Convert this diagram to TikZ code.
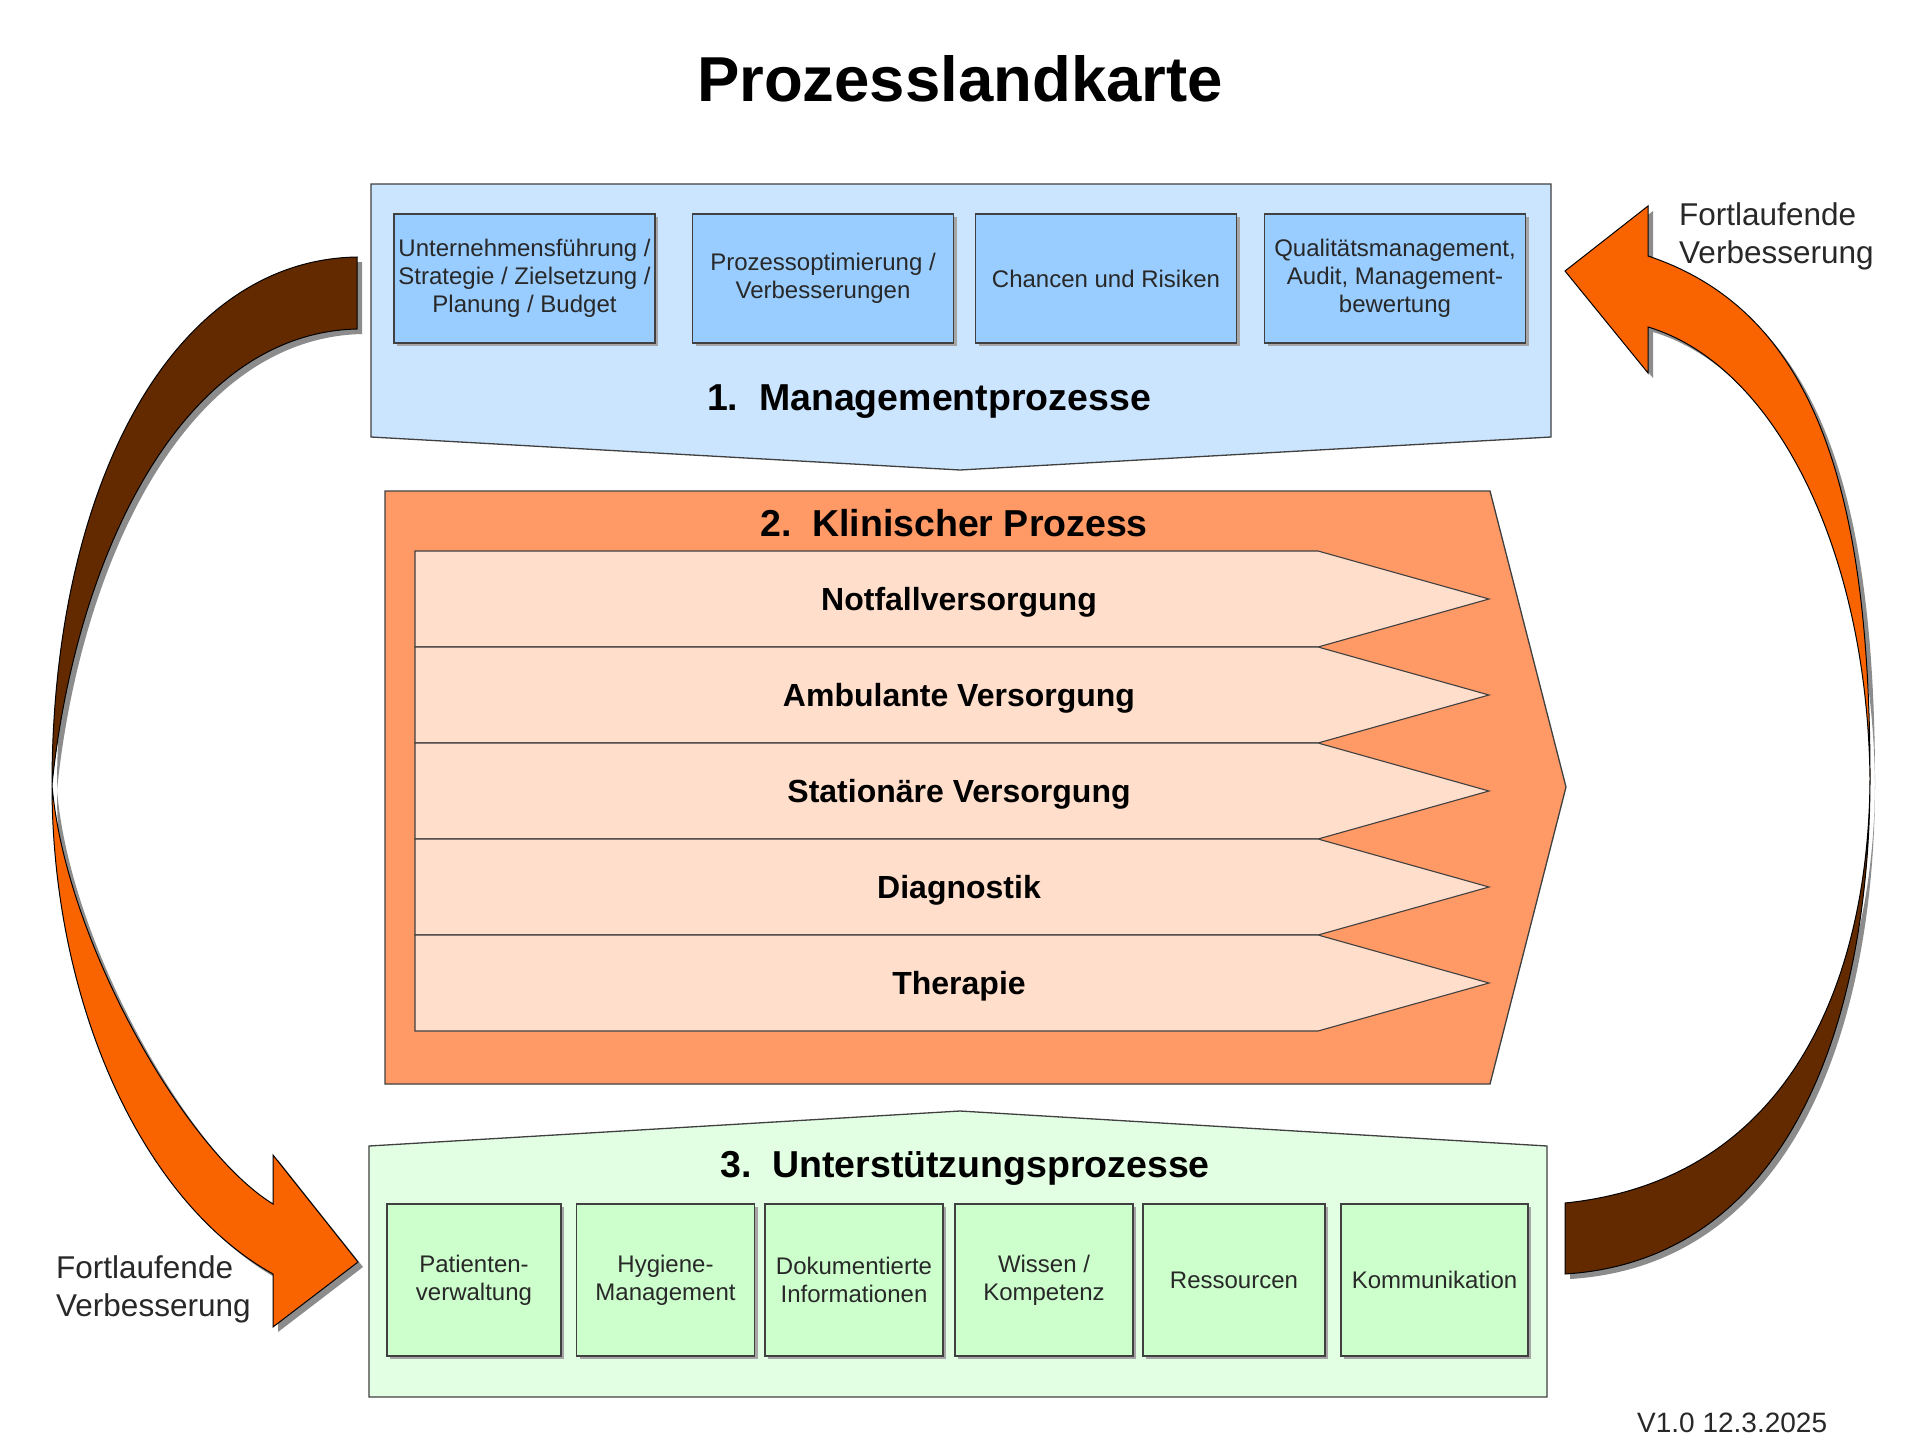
\documentclass[tikz,border=0pt]{standalone}
\usepackage{fontspec}
\setmainfont{Liberation Sans}
\definecolor{blueout}{RGB}{204,229,255}
\definecolor{bluein}{RGB}{153,204,255}
\definecolor{orangeout}{RGB}{255,153,102}
\definecolor{chev}{RGB}{255,222,204}
\definecolor{greenout}{RGB}{227,255,227}
\definecolor{greenin}{RGB}{204,255,204}
\definecolor{arrbrown}{RGB}{99,42,0}
\definecolor{arrorange}{RGB}{250,100,0}
\definecolor{textgray}{RGB}{40,40,40}
\newcommand\ArrLB{(357,257) .. controls (170,260) and (52,490) .. (52,785) .. controls (75,560) and (180,333) .. (357,329) -- cycle}
\newcommand\ArrLO{(52,785) .. controls (52,1000) and (140,1200) .. (273,1274) -- (273,1327) -- (358,1262) -- (273,1155) -- (273,1204) .. controls (185,1150) and (65,940) .. (52,785) -- cycle}
\newcommand\ArrRO{(1870,778) .. controls (1870,480) and (1810,310) .. (1648,256) -- (1648,206) -- (1565,271) -- (1648,373) -- (1648,327) .. controls (1775,365) and (1867,550) .. (1870,778) -- cycle}
\newcommand\ArrRB{(1870,778) .. controls (1870,1020) and (1790,1260) .. (1565,1274) -- (1565,1203) .. controls (1790,1180) and (1869,980) .. (1870,778) -- cycle}
\begin{document}
\begin{tikzpicture}[x=1pt,y=-1pt,
  outl/.style={draw=black!75,line width=1.3pt},
  boxtxt/.style={align=center,font=\fontsize{24}{28}\selectfont,text=textgray,inner sep=0pt},
  bluebox/.style={outl,fill=bluein,boxtxt,minimum width=261pt,minimum height=129pt},
  greenbox/.style={outl,fill=greenin,boxtxt,minimum height=152pt},
  heading/.style={font=\fontsize{37.5}{42}\selectfont\bfseries,anchor=base,inner sep=0pt},
  chevlabel/.style={font=\fontsize{32}{36}\selectfont\bfseries,anchor=base,inner sep=0pt},
  sidetxt/.style={font=\fontsize{31.5}{38}\selectfont,text=textgray,align=left,anchor=north west,inner sep=0pt},
  shadow/.style={fill=black!45,draw=none},
  arrowline/.style={draw=black,line width=1pt}]
\useasboundingbox (0,0) rectangle (1920,1440);
\fill[white] (0,0) rectangle (1920,1440);

% title
\node[font=\fontsize{63.5}{70}\selectfont\bfseries] (title) at (960,79) {Prozesslandkarte};

% curved arrows: shadows, then bodies
\fill[shadow,shift={(5,5)}] \ArrLB;
\fill[shadow,shift={(5,5)}] \ArrLO;
\fill[shadow,shift={(5,5)}] \ArrRO;
\fill[shadow,shift={(5,5)}] \ArrRB;
\filldraw[arrowline,fill=arrbrown] \ArrLB;
\filldraw[arrowline,fill=arrorange] \ArrLO;
\filldraw[arrowline,fill=arrorange] \ArrRO;
\filldraw[arrowline,fill=arrbrown] \ArrRB;

% 1. management
\filldraw[outl,fill=blueout] (371,184) -- (1551,184) -- (1551,437) -- (960,470) -- (371,437) -- cycle;
\foreach \cx in {524.5,823,1106,1395}
  \fill[black!35] (\cx-130.5+3,278.5-64.5+3) rectangle (\cx+130.5+3,278.5+64.5+3);
\node[bluebox] (b1) at (524.5,278.5) {Unternehmensführung /\\Strategie / Zielsetzung /\\Planung / Budget};
\node[bluebox] (b2) at (823,278.5) {Prozessoptimierung /\\Verbesserungen};
\node[bluebox] (b3) at (1106,278.5) {Chancen und Risiken};
\node[bluebox] (b4) at (1395,278.5) {Qualitätsmanagement,\\Audit, Management-\\bewertung};
\node[heading] (h1) at (929,410) {1.\ \ Managementprozesse};

% 2. clinical
\filldraw[outl,fill=orangeout] (385,491) -- (1490,491) -- (1566,787) -- (1490,1084) -- (385,1084) -- cycle;
\node[heading] (h2) at (954,536) {2.\ \ Klinischer Prozess};
\foreach \t/\lab/\nm in {551/Notfallversorgung/c1,647/Ambulante Versorgung/c2,743/Stationäre Versorgung/c3,839/Diagnostik/c4,935/Therapie/c5}{
  \filldraw[outl,line width=1.1pt,fill=chev] (415,\t) -- (1318,\t) -- (1489,\t+48) -- (1318,\t+96) -- (415,\t+96) -- cycle;
  \node[chevlabel] (\nm) at (959,\t+59) {\lab};
}

% 3. support
\filldraw[outl,fill=greenout] (369,1146) -- (960,1111) -- (1547,1146) -- (1547,1397) -- (369,1397) -- cycle;
\node[heading] (h3) at (965,1177) {3.\ \ Unterstützungsprozesse};
\foreach \cx/\w in {474/174,665.5/178,854/178,1044/178,1234/182,1434.5/187}
  \fill[black!35] (\cx-\w/2+3,1204+3) rectangle (\cx+\w/2+3,1356+3);
\node[greenbox,minimum width=174pt] (g1) at (474,1280) {Patienten-\\verwaltung};
\node[greenbox,minimum width=178pt] (g2) at (665.5,1280) {Hygiene-\\Management};
\node[greenbox,minimum width=178pt] (g3) at (854,1280) {Dokumentierte\\Informationen};
\node[greenbox,minimum width=178pt] (g4) at (1044,1280) {Wissen /\\Kompetenz};
\node[greenbox,minimum width=182pt] (g5) at (1234,1280) {Ressourcen};
\node[greenbox,minimum width=187pt] (g6) at (1434.5,1280) {Kommunikation};

% side labels
\node[sidetxt] (fvr) at (1679,202) {Fortlaufende\\Verbesserung};
\node[sidetxt] (fvl) at (56,1255) {Fortlaufende\\Verbesserung};
\node[font=\fontsize{28}{32}\selectfont,text=textgray,anchor=base west,inner sep=0pt] (ver) at (1637,1432) {V1.0 12.3.2025};
\end{tikzpicture}
\end{document}
